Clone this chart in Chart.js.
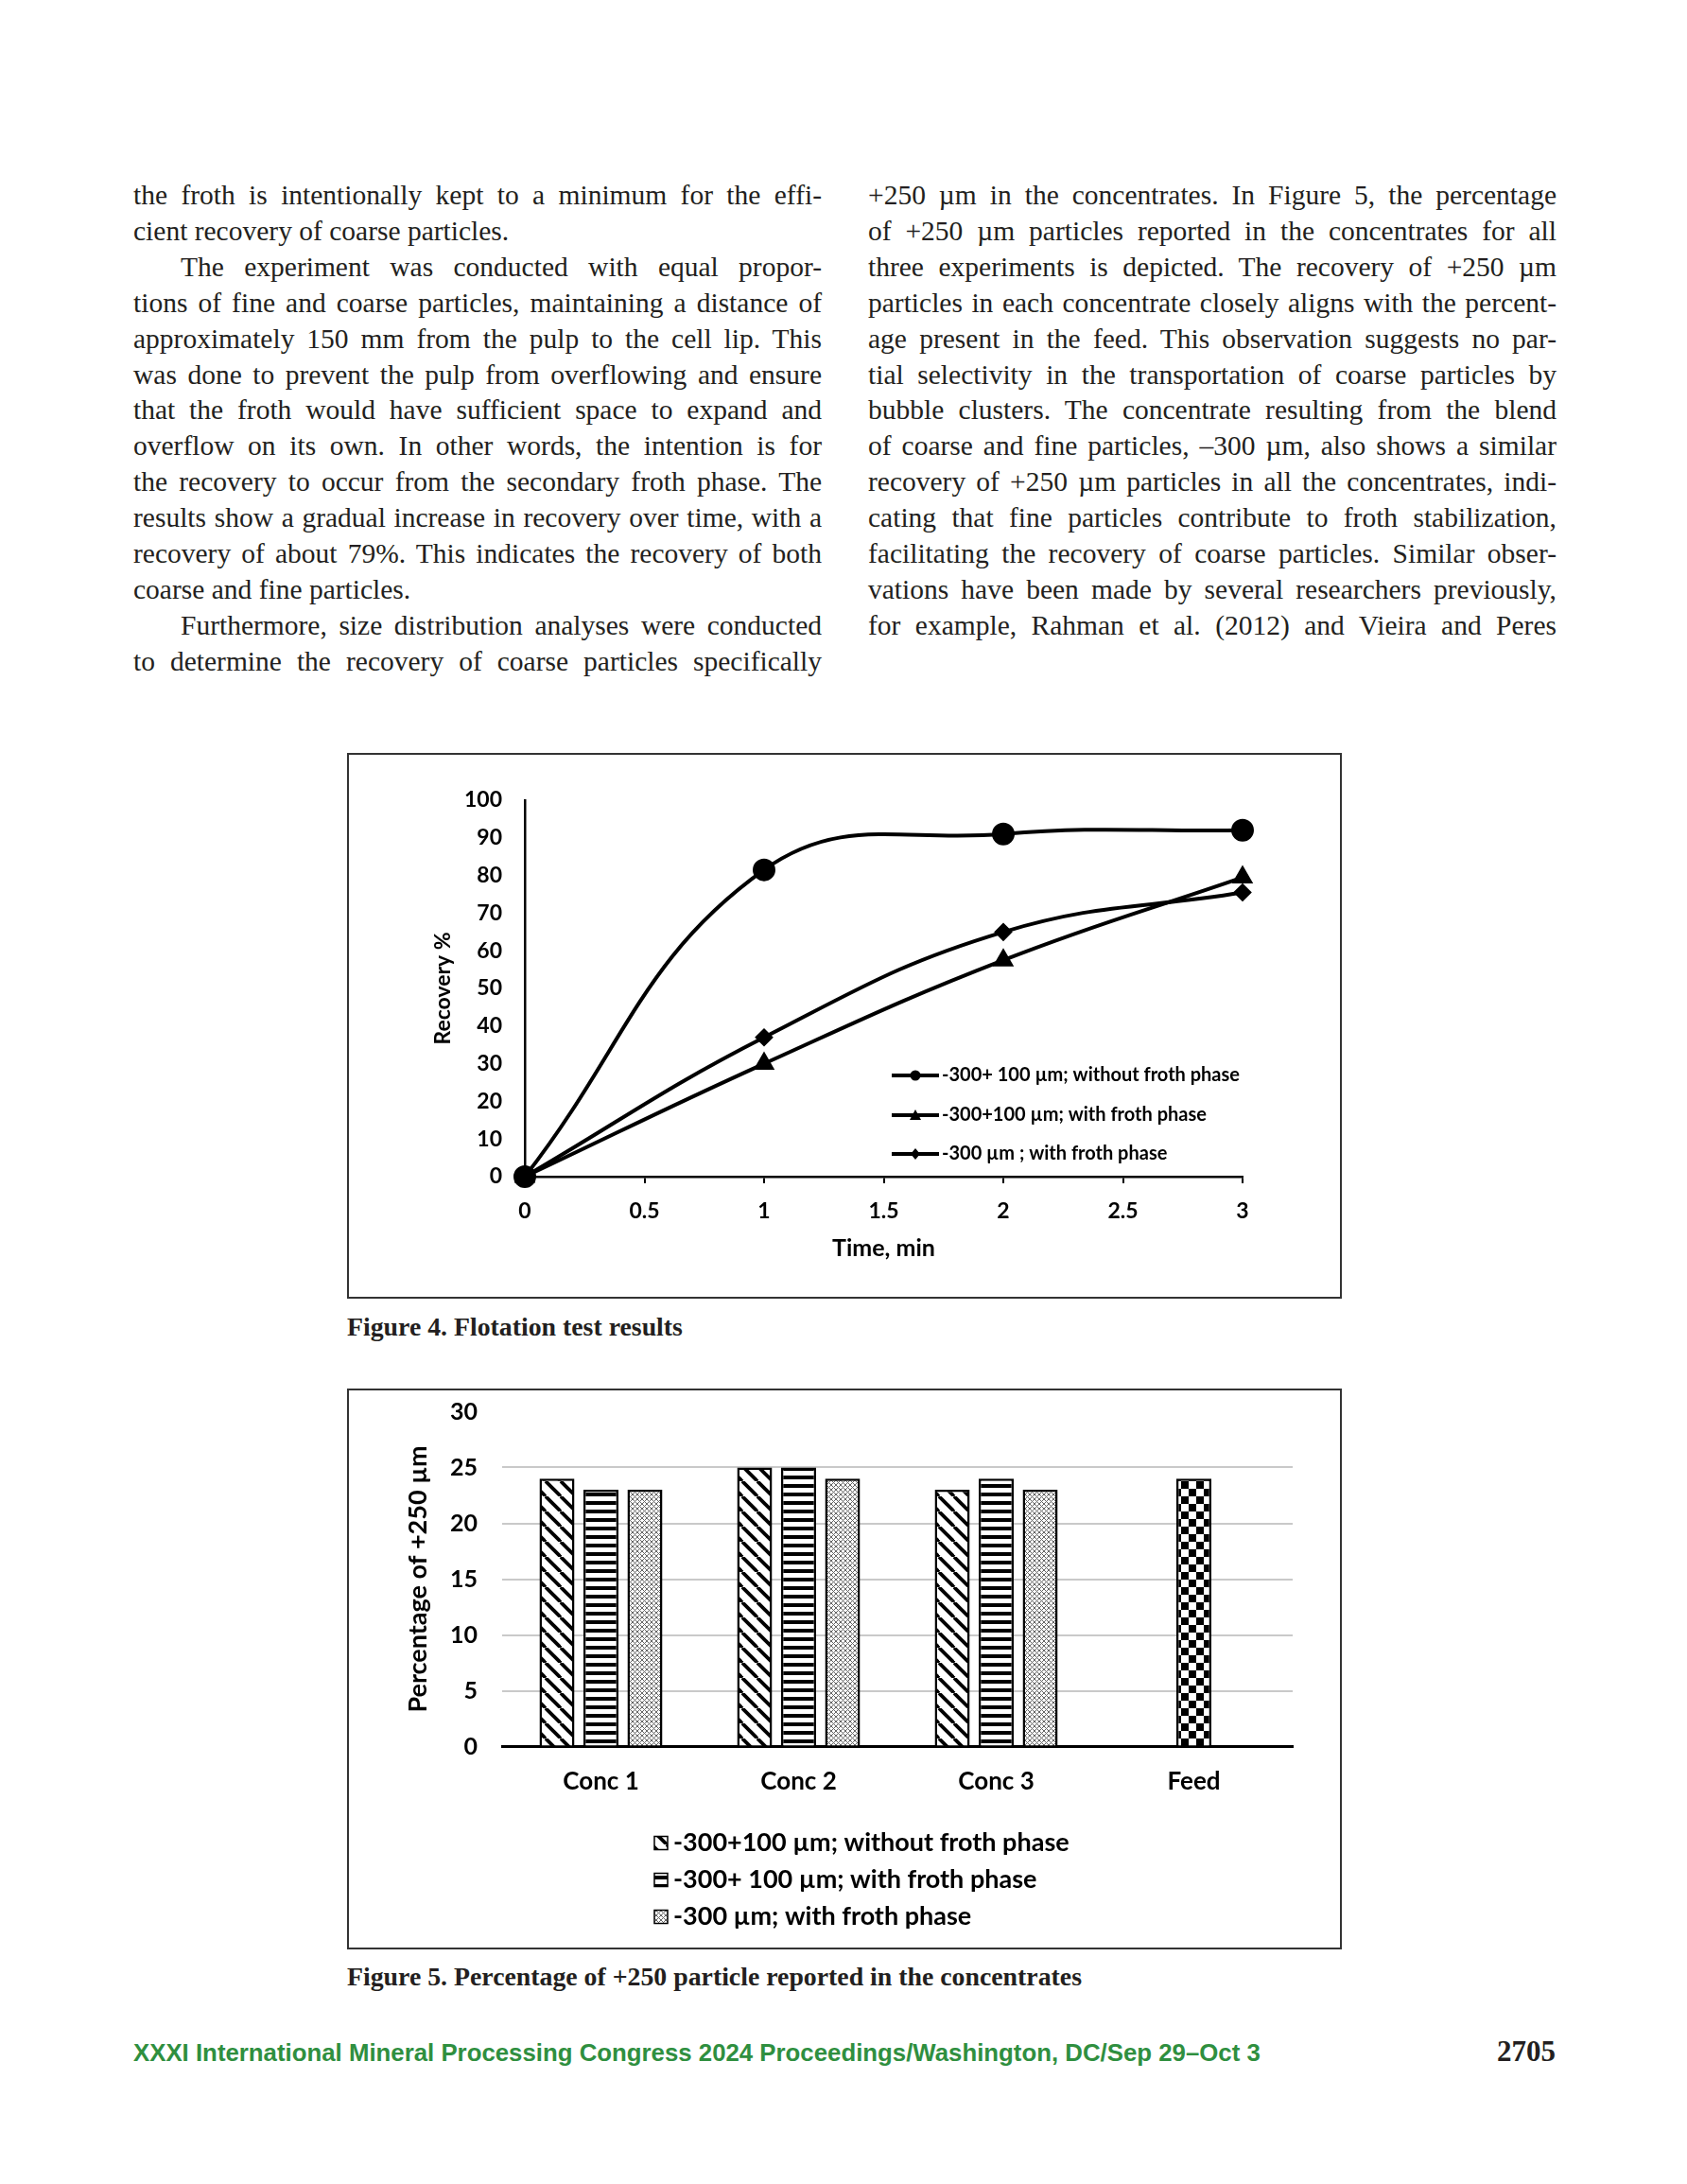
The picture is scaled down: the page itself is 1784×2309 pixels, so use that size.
<!DOCTYPE html>
<html><head><meta charset="utf-8">
<script src="https://cdn.jsdelivr.net/npm/chart.js@4.4.0/dist/chart.umd.min.js"></script>
<style>
html,body{margin:0;padding:0;background:#fff;}
body{width:1784px;height:2309px;position:relative;overflow:hidden;font-family:"Liberation Serif",serif;color:#231f20;}
.col{position:absolute;top:188px;width:728px;font-size:29.5px;line-height:37.9px;}
.col div{white-space:nowrap;text-align:justify;text-align-last:justify;}
.col div.l{text-align-last:left;}
.col div.i{padding-left:50px;}
.fig{position:absolute;left:367px;width:1048px;border:2px solid #333;background:#fff;}
.fig canvas{display:block;}
.cap{position:absolute;left:367px;font-weight:bold;font-size:27.8px;color:#231f20;white-space:nowrap;}
.foot{position:absolute;left:141px;top:2156px;font-family:"Liberation Sans",sans-serif;font-weight:bold;font-size:25.8px;color:#2f8f3f;white-space:nowrap;}
.pg{position:absolute;right:139px;top:2151px;font-weight:bold;font-size:31px;color:#231f20;}
</style></head>
<body>
<div class="col" style="left:141px">
<div>the froth is intentionally kept to a minimum for the effi-</div>
<div class="l">cient recovery of coarse particles.</div>
<div class="i">The experiment was conducted with equal propor-</div>
<div>tions of fine and coarse particles, maintaining a distance of</div>
<div>approximately 150 mm from the pulp to the cell lip. This</div>
<div>was done to prevent the pulp from overflowing and ensure</div>
<div>that the froth would have sufficient space to expand and</div>
<div>overflow on its own. In other words, the intention is for</div>
<div>the recovery to occur from the secondary froth phase. The</div>
<div>results show a gradual increase in recovery over time, with a</div>
<div>recovery of about 79%. This indicates the recovery of both</div>
<div class="l">coarse and fine particles.</div>
<div class="i">Furthermore, size distribution analyses were conducted</div>
<div>to determine the recovery of coarse particles specifically</div>
</div>
<div class="col" style="left:918px">
<div>+250 µm in the concentrates. In Figure 5, the percentage</div>
<div>of +250 µm particles reported in the concentrates for all</div>
<div>three experiments is depicted. The recovery of +250 µm</div>
<div>particles in each concentrate closely aligns with the percent-</div>
<div>age present in the feed. This observation suggests no par-</div>
<div>tial selectivity in the transportation of coarse particles by</div>
<div>bubble clusters. The concentrate resulting from the blend</div>
<div>of coarse and fine particles, –300 µm, also shows a similar</div>
<div>recovery of +250 µm particles in all the concentrates, indi-</div>
<div>cating that fine particles contribute to froth stabilization,</div>
<div>facilitating the recovery of coarse particles. Similar obser-</div>
<div>vations have been made by several researchers previously,</div>
<div>for example, Rahman et al. (2012) and Vieira and Peres</div>
</div>

<div class="fig" style="top:796px;height:573px"><canvas id="c4" width="1048" height="573"></canvas></div>
<div class="cap" style="top:1387px">Figure 4. Flotation test results</div>
<div class="fig" style="top:1468px;height:589px"><canvas id="c5" width="1048" height="589"></canvas></div>
<div class="cap" style="top:2074px">Figure 5. Percentage of +250 particle reported in the concentrates</div>
<div class="foot">XXXI International Mineral Processing Congress 2024 Proceedings/Washington, DC/Sep 29–Oct 3</div>
<div class="pg">2705</div>

<script>
// shrink letter-spacing on any body line wider than its column
document.querySelectorAll('.col div').forEach(d => {
  const over = d.scrollWidth - d.clientWidth;
  if (over > 0) d.style.letterSpacing = (-(over + 2) / d.textContent.length) + 'px';
});

// ---------- Figure 4 data ----------
const timeMin = [0, 1, 2, 3];
const recNoFroth = [0, 81.5, 91, 92];
const recFroth = [0, 30, 57.5, 79.5];
const recBlend = [0, 37, 65, 75.5];
const labels4 = ['-300+ 100 µm; without froth phase', '-300+100 µm; with froth phase', '-300 µm ; with froth phase'];

// ---------- Figure 5 data ----------
const categories = ['Conc 1', 'Conc 2', 'Conc 3', 'Feed'];
const pctNoFroth = [24, 25, 23, null];
const pctFroth = [23, 25, 24, null];
const pctBlend = [23, 24, 23, null];
const pctFeed = [null, null, null, 24];
const labels5 = ['-300+100 µm; without froth phase', '-300+ 100 µm; with froth phase', '-300 µm; with froth phase', 'Feed'];

const FONT = 'Lato, "Open Sans", sans-serif';

function pts(xs, ys) { return xs.map((x, i) => ({x: x, y: ys[i]})); }

// ---------- patterns ----------
function mkPattern(size, draw) {
  const c = document.createElement('canvas');
  c.width = c.height = size;
  const g = c.getContext('2d');
  g.fillStyle = '#fff'; g.fillRect(0, 0, size, size);
  draw(g, size);
  return document.createElement('canvas').getContext('2d').createPattern(c, 'repeat');
}
const patDiag = mkPattern(16, (g, s) => {
  g.strokeStyle = '#000'; g.lineWidth = 3.8;
  for (const x0 of [-s, 0, s]) { g.beginPath(); g.moveTo(x0, 0); g.lineTo(x0 + s, s); g.stroke(); }
});
const patHoriz = mkPattern(9, (g, s) => { g.fillStyle = '#000'; g.fillRect(0, 0, s, 4); });
const patDots = mkPattern(5, (g, s) => {
  g.strokeStyle = '#666'; g.lineWidth = 1;
  g.beginPath(); g.moveTo(0, 0); g.lineTo(s, s); g.moveTo(s, 0); g.lineTo(0, s); g.stroke();
});
const patCheck = mkPattern(16, (g, s) => {
  g.fillStyle = '#000'; g.fillRect(0, 0, 8, 8); g.fillRect(8, 8, 8, 8);
});

// ---------- Figure 4 ----------
const legend4 = {
  id: 'legend4',
  afterDraw(chart) {
    const ctx = chart.ctx, a = chart.chartArea;
    const x0 = a.left + 388, rows = [a.top + 291, a.top + 333, a.top + 374];
    ctx.save();
    chart.data.datasets.forEach((ds, i) => {
      const y = rows[i];
      ctx.strokeStyle = '#000'; ctx.lineWidth = 4;
      ctx.beginPath(); ctx.moveTo(x0, y); ctx.lineTo(x0 + 50, y); ctx.stroke();
      ctx.fillStyle = '#000';
      const cx = x0 + 25;
      ctx.beginPath();
      if (i === 0) { ctx.arc(cx, y, 5.5, 0, Math.PI * 2); }
      else if (i === 1) { ctx.moveTo(cx, y - 6); ctx.lineTo(cx + 6, y + 5); ctx.lineTo(cx - 6, y + 5); ctx.closePath(); }
      else { ctx.moveTo(cx, y - 6); ctx.lineTo(cx + 5, y); ctx.lineTo(cx, y + 6); ctx.lineTo(cx - 5, y); ctx.closePath(); }
      ctx.fill();
      ctx.font = 'bold 20px ' + FONT; ctx.textBaseline = 'middle'; ctx.textAlign = 'left';
      ctx.fillText(ds.label, x0 + 53, y);
    });
    ctx.restore();
  }
};

new Chart(document.getElementById('c4'), {
  type: 'line',
  data: {
    datasets: [
      {label: labels4[0], data: pts(timeMin, recNoFroth), pointStyle: 'circle', pointRadius: 10},
      {label: labels4[1], data: pts(timeMin, recFroth), pointStyle: 'triangle', pointRadius: 9},
      {label: labels4[2], data: pts(timeMin, recBlend), pointStyle: 'rectRot', pointRadius: 7}
    ].map(d => Object.assign(d, {borderColor: '#000', backgroundColor: '#000', pointBackgroundColor: '#000', pointBorderColor: '#000', borderWidth: 4, tension: 0.42, fill: false, clip: false}))
  },
  options: {
    responsive: false, animation: false, devicePixelRatio: 1,
    layout: {padding: {left: 0, top: 48, right: 103, bottom: 0}},
    plugins: {legend: {display: false}, tooltip: {enabled: false}},
    scales: {
      x: {
        type: 'linear', min: 0, max: 3,
        ticks: {stepSize: 0.5, color: '#000', font: {family: FONT, size: 23, weight: 'bold'}, padding: 16, callback: v => String(v)},
        grid: {display: true, drawOnChartArea: false, drawTicks: true, tickLength: 7, color: '#000', lineWidth: 2},
        border: {display: true, color: '#000', width: 2.5},
        title: {display: true, text: 'Time, min', color: '#000', font: {family: FONT, size: 25, weight: 'bold'}, padding: {bottom: 36, top: 0}},
        afterFit(s) { s.height = 127; s.paddingLeft = 0; s.paddingRight = 0; }
      },
      y: {
        min: 0, max: 100,
        ticks: {stepSize: 10, color: '#000', font: {family: FONT, size: 23, weight: 'bold'}, padding: 24},
        grid: {display: false, drawTicks: false},
        border: {display: true, color: '#000', width: 2.5},
        title: {display: true, text: 'Recovery %', color: '#000', font: {family: FONT, size: 23, weight: 'bold'}, padding: {top: 86, bottom: 0}},
        afterFit(s) { s.width = 186; s.paddingTop = 0; s.paddingBottom = 0; }
      }
    }
  },
  plugins: [legend4]
});

// ---------- Figure 5 ----------
const legend5 = {
  id: 'legend5',
  afterDraw(chart) {
    const ctx = chart.ctx, a = chart.chartArea;
    const x0 = a.left + 161, rows = [a.bottom + 102, a.bottom + 141, a.bottom + 180];
    ctx.save();
    for (let i = 0; i < 3; i++) {
      const ds = chart.data.datasets[i], y = rows[i];
      ctx.fillStyle = ds.backgroundColor; ctx.fillRect(x0, y - 7, 14, 14);
      ctx.strokeStyle = '#000'; ctx.lineWidth = 1.5; ctx.strokeRect(x0, y - 7, 14, 14);
      ctx.fillStyle = '#000'; ctx.font = 'bold 27px ' + FONT; ctx.textBaseline = 'middle'; ctx.textAlign = 'left';
      ctx.fillText(ds.label, x0 + 20, y);
    }
    ctx.restore();
  }
};

const barCommon = {borderColor: '#000', borderWidth: 2.5, categoryPercentage: 0.6675, barPercentage: 0.796};
new Chart(document.getElementById('c5'), {
  type: 'bar',
  data: {
    labels: categories,
    datasets: [
      Object.assign({label: labels5[0], data: pctNoFroth, backgroundColor: patDiag}, barCommon),
      Object.assign({label: labels5[1], data: pctFroth, backgroundColor: patHoriz}, barCommon),
      Object.assign({label: labels5[2], data: pctBlend, backgroundColor: patDots}, barCommon),
      {label: labels5[3], data: pctFeed, backgroundColor: patCheck, borderColor: '#000', borderWidth: 2.5, grouped: false, categoryPercentage: 1, barPercentage: 0.177}
    ]
  },
  options: {
    responsive: false, animation: false, devicePixelRatio: 1,
    layout: {padding: {left: 0, top: 22.5, right: 50, bottom: 0}},
    plugins: {legend: {display: false}, tooltip: {enabled: false}},
    scales: {
      x: {
        ticks: {color: '#000', font: {family: FONT, size: 26, weight: 'bold'}, padding: 22},
        grid: {display: false, drawTicks: false},
        border: {display: true, color: '#000', width: 3},
        afterFit(s) { s.height = 212.5; s.paddingLeft = 0; s.paddingRight = 0; }
      },
      y: {
        min: 0, max: 30,
        ticks: {stepSize: 5, color: '#000', font: {family: FONT, size: 25, weight: 'bold'}, padding: 26},
        grid: {drawTicks: false, lineWidth: 2, color: c => (c.tick.value === 0 || c.tick.value === 30) ? 'rgba(0,0,0,0)' : '#c9c9c9'},
        border: {display: false},
        title: {display: true, text: 'Percentage of +250 µm', color: '#000', font: {family: FONT, size: 27, weight: 'bold'}, padding: {top: 57, bottom: 0}},
        afterFit(s) { s.width = 162; s.paddingTop = 0; s.paddingBottom = 0; }
      }
    }
  },
  plugins: [legend5]
});
</script>
</body></html>
